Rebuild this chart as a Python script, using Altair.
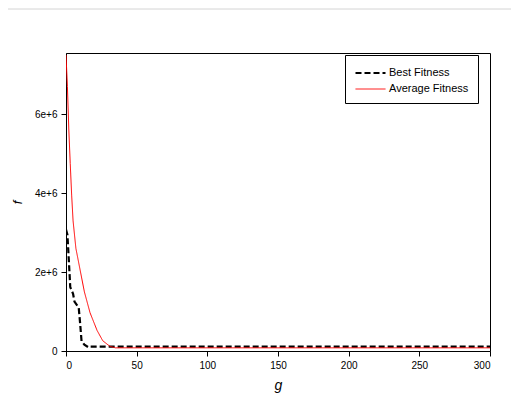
import altair as alt
import pandas as pd

series = ["Best Fitness", "Average Fitness"]

best_g = [0, 1, 2, 3, 5, 6, 9, 10, 11, 13, 16, 17, 300]
best_f = [3.08e6, 2.95e6, 2.3e6, 1.62e6, 1.45e6, 1.25e6, 1.1e6, 0.7e6, 0.25e6,
          0.16e6, 0.09e6, 0.11e6, 0.11e6]

avg_g = [0, 1, 2, 3, 4, 5, 7, 10, 13, 17, 22, 26, 31, 35, 300]
avg_f = [7.5e6, 6.7e6, 5.6e6, 4.75e6, 3.95e6, 3.3e6, 2.6e6, 2.05e6, 1.5e6,
         0.97e6, 0.52e6, 0.26e6, 0.12e6, 0.08e6, 0.08e6]

x_ticks = [0, 50, 100, 150, 200, 250, 300]
y_ticks = [0, 2e6, 4e6, 6e6]

rows = []
for g, f in zip(best_g, best_f):
    rows.append({"g": g, "f": f, "series": series[0]})
for g, f in zip(avg_g, avg_f):
    rows.append({"g": g, "f": f, "series": series[1]})
df = pd.DataFrame(rows)

FONT = "Liberation Sans"
LEG = dict(orient="none", legendX=279, legendY=2)

lines = alt.Chart(df).mark_line(clip=True).encode(
    x=alt.X("g:Q",
            scale=alt.Scale(domain=[0, 300], nice=False, zero=False),
            axis=alt.Axis(values=x_ticks, title="g", titleFontStyle="italic",
                          titleFontWeight="normal", titleFontSize=14,
                          titleBaseline="alphabetic", titleY=38.5,
                          labelPadding=4)),
    y=alt.Y("f:Q",
            scale=alt.Scale(domain=[0, 7.55e6], nice=False),
            axis=alt.Axis(values=y_ticks, title="f", titleFontStyle="italic",
                          titleFontWeight="normal", titleFontSize=13,
                          titleX=-42, titleY=149, titleBaseline="bottom",
                          labelExpr="datum.value == 0 ? '0' : format(datum.value/1e6, 'd') + 'e+6'",
                          labelPadding=4)),
    color=alt.Color("series:N", title=None,
                    scale=alt.Scale(domain=series, range=["#000000", "#ff0000"]),
                    legend=alt.Legend(**LEG)),
    strokeDash=alt.StrokeDash("series:N", title=None,
                              scale=alt.Scale(domain=series, range=[[6, 3], [1, 0]]),
                              legend=alt.Legend(**LEG)),
    strokeWidth=alt.StrokeWidth("series:N", title=None,
                                scale=alt.Scale(domain=series, range=[2.2, 1]),
                                legend=alt.Legend(**LEG)),
)

topline = alt.Chart(alt.Data(values=[{"a": 1}])).mark_rule(color="#d4d4d4", strokeWidth=1).encode(
    x=alt.value(-58), x2=alt.value(445), y=alt.value(-44)
)

chart = alt.layer(lines, topline).properties(
    width=424, height=298,
    autosize=alt.AutoSizeParams(type="none"),
    padding={"left": 58, "top": 45, "right": 21, "bottom": 44},
).configure_view(
    stroke="black", strokeWidth=1
).configure_axis(
    grid=False, domainColor="black", tickColor="black", labelColor="black",
    labelFont=FONT, labelFontSize=10, titleFont=FONT, titleColor="black",
    tickSize=5, domainWidth=1, tickWidth=1
).configure_legend(
    symbolType="M-1,0H3", symbolSize=225, labelOffset=17,
    labelFont=FONT, labelFontSize=11, labelColor="black",
    strokeColor="black", padding=9, rowPadding=3, fillColor="white",
    symbolStrokeColor="black"
)

chart.save("out.html", embed_options={"renderer": "svg", "actions": False})
